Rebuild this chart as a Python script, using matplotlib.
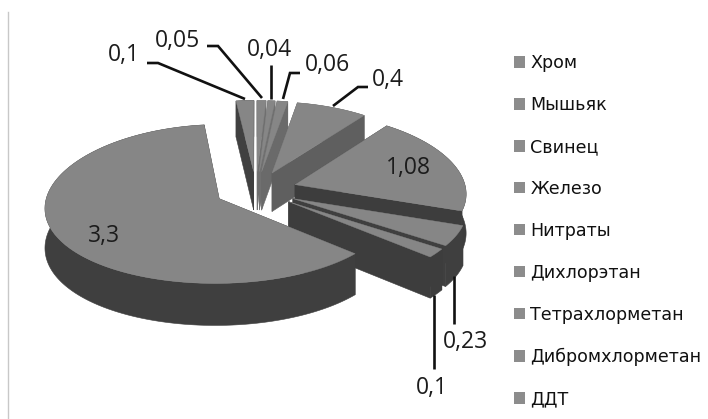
import numpy as np
import matplotlib
matplotlib.use("Agg")
import matplotlib.pyplot as plt
from matplotlib.patches import Polygon, Patch

# Pollutant names and their shares, clockwise from twelve o'clock
substances = ["Хром", "Мышьяк", "Свинец", "Железо", "Нитраты", "Дихлорэтан",
              "Тетрахлорметан", "Дибромхлорметан", "ДДТ"]
values = [0.05, 0.04, 0.06, 0.4, 1.08, 0.23, 0.1, 3.3, 0.1]
value_labels = ["0,05", "0,04", "0,06", "0,4", "1,08", "0,23", "0,1", "3,3", "0,1"]

# Styling per slice
side_colors = ["#6f6f6f", "#707070", "#6a6a6a", "#5f5f5f", "#3d3d3d",
               "#3f3f3f", "#3d3d3d", "#3f3f3f", "#404040"]
top_color = "#868686"
draw_order = [8, 0, 1, 2, 3, 4, 5, 6, 7]

# Projection of the tilted, exploded disc onto the canvas
CX, CY = 256.0, 190.0
RX, RY = 171.0, 78.0
DEPTH = 39.0
EXPLODE = 0.24
PERSP_X = 0.10
PERSP_Y = 0.065


def project(x, y, drop=0.0):
    sx = 1.0 / (1.0 + PERSP_X * y)
    sy = 1.0 / (1.0 + PERSP_Y * y)
    return CX + RX * x * sx, CY - RY * y * sy + drop * sy


def rim(theta, ox, oy, drop=0.0):
    return project(ox + np.sin(theta), oy + np.cos(theta), drop)


fig = plt.figure(figsize=(7.08, 4.19), dpi=100)
ax = fig.add_axes([0, 0, 1, 1])
ax.set_xlim(0, 708)
ax.set_ylim(419, 0)
ax.axis("off")

# Thin frame edge on the left of the chart area
ax.plot([8, 8], [12, 419], color="#c8c8c8", lw=1.0)

fractions = np.cumsum([0] + values) / sum(values) * 2 * np.pi

for i in draw_order:
    a0, a1 = fractions[i], fractions[i + 1]
    mid = (a0 + a1) / 2
    ox, oy = EXPLODE * np.sin(mid), EXPLODE * np.cos(mid)
    angles = np.linspace(a0, a1, max(3, int((a1 - a0) * 60)))
    apex_top = project(ox, oy)
    apex_low = project(ox, oy, DEPTH)

    # The two cut faces, then the outer wall as a single strip
    for a in (a0, a1):
        quad = [apex_top, rim(a, ox, oy), rim(a, ox, oy, DEPTH), apex_low]
        ax.add_patch(Polygon(quad, closed=True, facecolor=side_colors[i],
                             edgecolor=side_colors[i], lw=0.4))
    wall = [rim(a, ox, oy) for a in angles] + [rim(a, ox, oy, DEPTH) for a in angles[::-1]]
    ax.add_patch(Polygon(wall, closed=True, facecolor=side_colors[i],
                         edgecolor=side_colors[i], lw=0.4))

    top = [apex_top] + [rim(a, ox, oy) for a in angles]
    ax.add_patch(Polygon(top, closed=True, facecolor=top_color,
                         edgecolor=top_color, lw=0.3))

# Leader lines running from the outer labels to their slices
leaders = {
    8: [(147, 63), (158, 63), (245, 99)],
    0: [(207, 46), (218, 46), (262, 98)],
    1: [(271, 65), (271, 99)],
    2: [(300, 73), (290, 73), (283, 99)],
    3: [(368, 87), (358, 87), (333, 106)],
    5: [(454, 276), (454, 324)],
    6: [(434, 295), (434, 369)],
}
for pts in leaders.values():
    xs, ys = zip(*pts)
    ax.plot(xs, ys, color="#111111", lw=1.9, solid_capstyle="butt",
            solid_joinstyle="miter")

label_pos = {0: (178, 41), 1: (269, 50), 2: (327, 65), 3: (388, 80), 4: (408, 168),
             5: (465, 342), 6: (432, 388), 7: (104, 236), 8: (124, 55)}
for i, (lx, ly) in label_pos.items():
    ax.text(lx, ly, value_labels[i], ha="center", va="center", fontsize=16.5,
            family="Open Sans", color="#1c1c1c")

handles = [Patch(facecolor="#8c8c8c", edgecolor="none") for _ in substances]
ax.legend(handles, substances, loc="upper left",
          bbox_to_anchor=(514 / 708, 1 - 54 / 419), frameon=False,
          prop={"family": "DejaVu Sans", "size": 12.6},
          labelspacing=1.37, handlelength=0.63, handleheight=0.63,
          handletextpad=0.3, borderaxespad=0, borderpad=0, labelcolor="#111111")

fig.savefig("out.png", dpi=100)
